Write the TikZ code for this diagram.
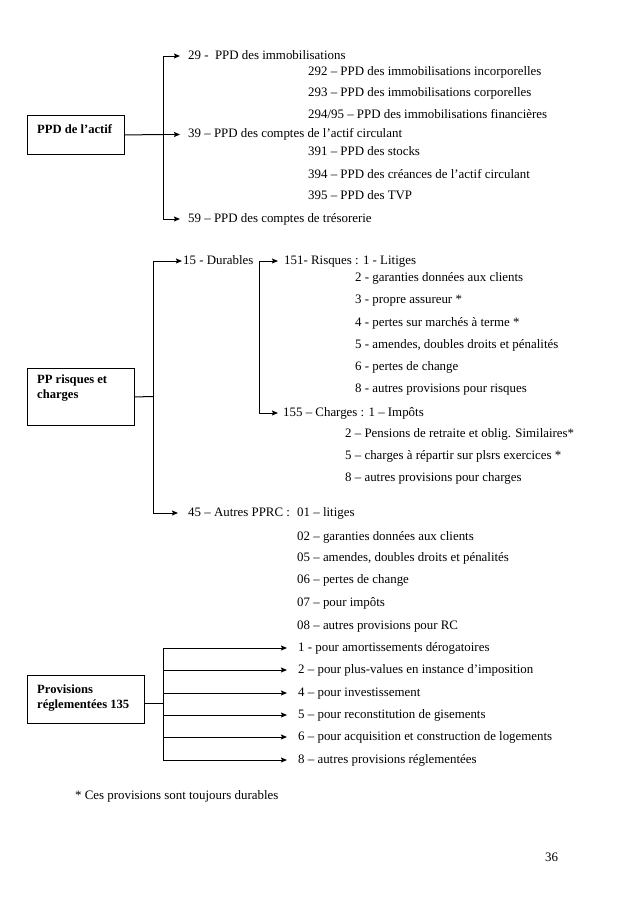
\documentclass[tikz,border=0pt]{standalone}
\usepackage{fontspec}
\setmainfont{Liberation Serif}
\usetikzlibrary{arrows.meta}
\begin{document}
\begin{tikzpicture}[x=1pt,y=-1pt,
  txt/.style={font=\fontsize{12.9}{15}\selectfont, inner sep=0pt, anchor=west, text height=9pt, text depth=3pt},
  boxtxt/.style={font=\fontsize{12.6}{15}\selectfont\bfseries, inner sep=0pt, anchor=north west, align=left},
  box/.style={draw, line width=0.9pt, inner sep=0pt, anchor=north west},
  ln/.style={line width=1pt},
  arr/.style={line width=1pt, -{Stealth[length=6pt,width=5pt,inset=1pt]}}]
\path[use as bounding box] (0,0) rectangle (638,903);

% ---------- Section 1 ----------
\node[box, minimum width=97pt, minimum height=39pt] (b1) at (27,115) {};
\node[boxtxt] (b1t) at (37,124.3) {PPD de l’actif};
\node[txt] (t29)  at (188,56)  {29 -\ \ PPD des immobilisations};
\node[txt] (t292) at (308,72)  {292 – PPD des immobilisations incorporelles};
\node[txt] (t293) at (308,93)  {293 – PPD des immobilisations corporelles};
\node[txt] (t294) at (308,115) {294/95 – PPD des immobilisations financières};
\node[txt] (t39)  at (188,134.5) {39 – PPD des comptes de l’actif circulant};
\node[txt] (t391) at (308,152) {391 – PPD des stocks};
\node[txt] (t394) at (308,175) {394 – PPD des créances de l’actif circulant};
\node[txt] (t395) at (308,196) {395 – PPD des TVP};
\node[txt] (t59)  at (188,219) {59 – PPD des comptes de trésorerie};
\coordinate (j1) at (163,134.5);
\draw[ln] (b1.east) -- (j1);
\draw[arr, shorten >=8pt] (j1) |- (t29.west);
\draw[arr, shorten >=8pt] (j1) -- (t39.west);
\draw[arr, shorten >=8pt] (j1) |- (t59.west);

% ---------- Section 2 ----------
\node[box, minimum width=107pt, minimum height=57pt] (b2) at (27,368) {};
\node[boxtxt] (b2t) at (37,375) {PP risques et\\charges};
\node[txt] (t15)  at (183,261) {15 - Durables};
\node[txt] (t151) at (284,261) {151- Risques : 1 - Litiges};
\node[txt] (r2) at (355,278) {2 - garanties données aux clients};
\node[txt] (r3) at (355,300) {3 - propre assureur *};
\node[txt] (r4) at (355,323) {4 - pertes sur marchés à terme *};
\node[txt] (r5) at (355,345) {5 - amendes, doubles droits et pénalités};
\node[txt] (r6) at (355,367) {6 - pertes de change};
\node[txt] (r8) at (355,389) {8 - autres provisions pour risques};
\node[txt] (t155) at (283,413) {155 – Charges : 1 – Impôts};
\node[txt] (c2) at (345,434) {2 – Pensions de retraite et oblig. Similaires*};
\node[txt] (c5) at (345,456) {5 – charges à répartir sur plsrs exercices *};
\node[txt] (c8) at (345,478) {8 – autres provisions pour charges};
\node[txt] (t45) at (188,513) {45 – Autres PPRC :};
\node[txt] (o1) at (297,513) {01 – litiges};
\node[txt] (o2) at (297,537) {02 – garanties données aux clients};
\node[txt] (o5) at (297,558) {05 – amendes, doubles droits et pénalités};
\node[txt] (o6) at (297,580) {06 – pertes de change};
\node[txt] (o7) at (297,603) {07 – pour impôts};
\node[txt] (o8) at (297,626) {08 – autres provisions pour RC};
\coordinate (j2) at (153,396.5);
\draw[ln] (b2.east) -- (j2);
\draw[arr, shorten >=1pt] (j2) |- (t15.west);
\draw[arr, shorten >=10pt] (j2) |- (t45.west);
\coordinate (k2) at (259,261);
\draw[arr, shorten >=6pt] (k2) -- (t151.west);
\draw[arr, shorten >=5pt] (k2) |- (t155.west);

% ---------- Section 3 ----------
\node[box, minimum width=117pt, minimum height=48pt] (b3) at (27,675) {};
\node[boxtxt] (b3t) at (37,684.5) {Provisions\\réglementées 135};
\node[txt] (p1) at (298,648) {1 - pour amortissements dérogatoires};
\node[txt] (p2) at (298,670) {2 – pour plus-values en instance d’imposition};
\node[txt] (p4) at (298,693) {4 – pour investissement};
\node[txt] (p5) at (298,715) {5 – pour reconstitution de gisements};
\node[txt] (p6) at (298,737) {6 – pour acquisition et construction de logements};
\node[txt] (p8) at (298,760) {8 – autres provisions réglementées};
\coordinate (j3) at (163,703);
\draw[ln] (b3.east |- j3) -- (j3);
\foreach \n in {p1,p2,p4,p5,p6,p8}
  \draw[arr, shorten >=11pt] (j3) |- (\n.west);

% ---------- Footer ----------
\node[txt] (fn) at (75,796) {* Ces provisions sont toujours durables};
\node[txt] (pg) at (545,858) {36};
\end{tikzpicture}
\end{document}
